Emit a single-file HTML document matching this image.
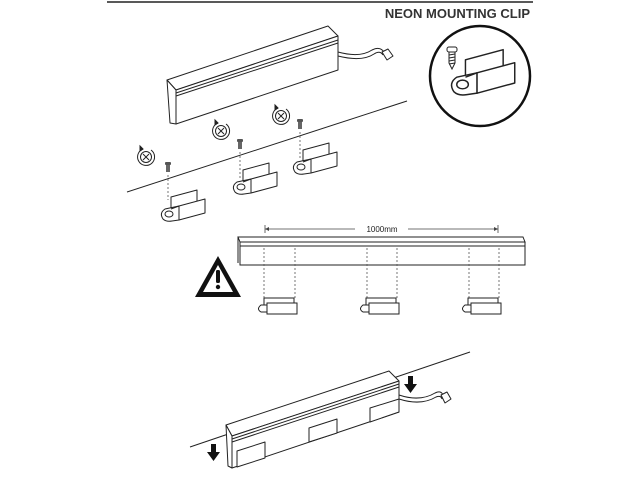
<!DOCTYPE html>
<html><head><meta charset="utf-8"><style>
html,body{margin:0;padding:0;background:#fff;}
svg{display:block;}
</style></head><body>
<svg width="640" height="480" viewBox="0 0 640 480" xmlns="http://www.w3.org/2000/svg" font-family="Liberation Sans, sans-serif">
<defs>
<g id="clip" fill="#fff" stroke="#222" stroke-width="1" stroke-linejoin="round">
  <polygon points="1,-16 27,-23 27,-11 1,-4"/>
  <path d="M9,-7 L-5,-4 Q-11,0 -7,6 Q-4,9 2,8 L9,7 Z"/>
  <polygon points="9,-7 35,-14 35,0 9,7"/>
  <line x1="1" y1="-4" x2="9" y2="-7"/>
  <ellipse cx="-1" cy="1" rx="4" ry="3"/>
</g>
<g id="screw">
  <rect x="-3" y="0" width="6" height="3" rx="1" fill="#555"/>
  <rect x="-2" y="3" width="4" height="7" fill="#666"/>
</g>
<g id="rot" fill="none" stroke="#222" stroke-width="1">
  <circle r="5.5"/>
  <line x1="-3" y1="-3" x2="3" y2="3"/><line x1="3" y1="-3" x2="-3" y2="3"/>
  <path d="M-3,-8 A8.5 8.5 0 1 0 5,-7"/>
  <path d="M-3,-8 l-3,-3 l0,5 z" fill="#222"/>
</g>
<g id="fclip" fill="#fff" stroke="#222" stroke-width="1">
  <rect x="3" y="0" width="30" height="8"/>
  <path d="M6,7 L0,7 Q-5,11 0,14 L6,14"/>
  <rect x="6" y="5" width="30" height="11"/>
</g>
</defs>

<line x1="107" y1="2" x2="533" y2="2" stroke="#222" stroke-width="1.5"/>
<text x="530" y="18" text-anchor="end" font-size="13" font-weight="bold" fill="#333">NEON MOUNTING CLIP</text>

<!-- top neon -->
<g fill="#fff" stroke="#222" stroke-width="1" stroke-linejoin="round">
  <polygon points="167,80 328,26 338,36 176,90"/>
  <polygon points="176,90 338,36 338,70 176,124"/>
  <polygon points="167,80 176,90 176,124 170,123"/>
  <line x1="176" y1="93" x2="338" y2="40"/>
  <line x1="176" y1="96" x2="338" y2="43"/>
  <path d="M338,52 Q360,58 372,50 Q380,46 384,52" fill="none"/>
  <path d="M338,56 Q362,62 374,54 Q380,50 383,55" fill="none"/>
  <polygon points="382,52 388,49 393,56 387,60"/>
</g>
<line x1="127" y1="192" x2="407" y2="101" stroke="#222" stroke-width="1"/>

<g stroke="#555" stroke-width="0.8" stroke-dasharray="2,2">
  <line x1="168" y1="175" x2="168" y2="200"/>
  <line x1="240" y1="152" x2="240" y2="178"/>
  <line x1="300" y1="132" x2="300" y2="158"/>
</g>
<use href="#clip" transform="translate(170,213)"/>
<use href="#clip" transform="translate(242,186)"/>
<use href="#clip" transform="translate(302,166)"/>
<use href="#screw" transform="translate(168,162)"/>
<use href="#screw" transform="translate(240,139)"/>
<use href="#screw" transform="translate(300,119)"/>
<use href="#rot" transform="translate(146,157)"/>
<use href="#rot" transform="translate(221,131)"/>
<use href="#rot" transform="translate(281,116)"/>

<!-- inset -->
<circle cx="480" cy="76" r="50" fill="#fff" stroke="#111" stroke-width="2.5"/>
<g transform="translate(464,83) scale(1.45)">
  <use href="#clip"/>
</g>
<g transform="translate(452,47)">
  <rect x="-5" y="0" width="10" height="5" rx="2" fill="#fff" stroke="#222"/>
  <path d="M-3,5 L3,5 L3,16 L0,22 L-3,16 Z" fill="#fff" stroke="#222"/>
  <path d="M-3,8 L3,7 M-3,11 L3,10 M-3,14 L3,13 M-3,17 L3,16" stroke="#222"/>
</g>

<!-- middle bar -->
<line x1="265" y1="229" x2="355" y2="229" stroke="#444" stroke-width="0.8"/>
<line x1="408" y1="229" x2="498" y2="229" stroke="#444" stroke-width="0.8"/>
<path d="M265,229 l4,-2 v4 z M498,229 l-4,-2 v4 z" fill="#444"/>
<line x1="265" y1="225" x2="265" y2="233" stroke="#444" stroke-width="0.8"/>
<line x1="498" y1="225" x2="498" y2="233" stroke="#444" stroke-width="0.8"/>
<text x="382" y="232" text-anchor="middle" font-size="8" fill="#222">1000mm</text>
<g fill="#fff" stroke="#222" stroke-width="1">
  <polygon points="238,237 523,237 525,242 240,242"/>
  <rect x="240" y="242" width="285" height="23"/>
  <line x1="238" y1="237" x2="238" y2="263"/>
  <line x1="240" y1="246" x2="525" y2="246"/>
</g>
<g stroke="#555" stroke-width="0.8" stroke-dasharray="2,2">
  <line x1="264" y1="248" x2="264" y2="298"/><line x1="295" y1="248" x2="295" y2="298"/>
  <line x1="367" y1="248" x2="367" y2="298"/><line x1="397" y1="248" x2="397" y2="298"/>
  <line x1="469" y1="248" x2="469" y2="298"/><line x1="499" y1="248" x2="499" y2="298"/>
</g>
<use href="#fclip" transform="translate(261,298)"/>
<use href="#fclip" transform="translate(363,298)"/>
<use href="#fclip" transform="translate(465,298)"/>
<path d="M218,256 L241,297 L195,297 Z" fill="#111"/>
<path d="M218,265 L233,292 L203,292 Z" fill="#fff"/>
<rect x="216" y="270" width="4" height="13" rx="1.5" fill="#111"/>
<circle cx="218" cy="287" r="2.2" fill="#111"/>

<!-- bottom -->
<line x1="190" y1="447" x2="470" y2="352" stroke="#222" stroke-width="1"/>
<g fill="#fff" stroke="#222" stroke-width="1" stroke-linejoin="round">
  <polygon points="226,425 389,371 399,381 232,436"/>
  <polygon points="232,436 399,381 399,412 232,468"/>
  <polygon points="226,425 232,436 232,468 228,466"/>
  <line x1="232" y1="439" x2="399" y2="384"/>
  <line x1="232" y1="442" x2="399" y2="387"/>
  <polygon points="237,451 265,442 265,458 237,467"/>
  <polygon points="309,428 337,419 337,433 309,442"/>
  <polygon points="370,408 399,399 399,412 370,422"/>
  <path d="M399,395 Q420,402 435,393 Q441,390 443,395" fill="none"/>
  <path d="M399,399 Q421,406 436,397 Q441,395 442,399" fill="none"/>
  <polygon points="441,395 447,392 451,399 445,403"/>
</g>
<path d="M408,376 h5 v8 h4 l-6.5,9 l-6.5,-9 h4 z" fill="#111"/>
<path d="M211,444 h5 v8 h4 l-6.5,9 l-6.5,-9 h4 z" fill="#111"/>
</svg>
</body></html>
